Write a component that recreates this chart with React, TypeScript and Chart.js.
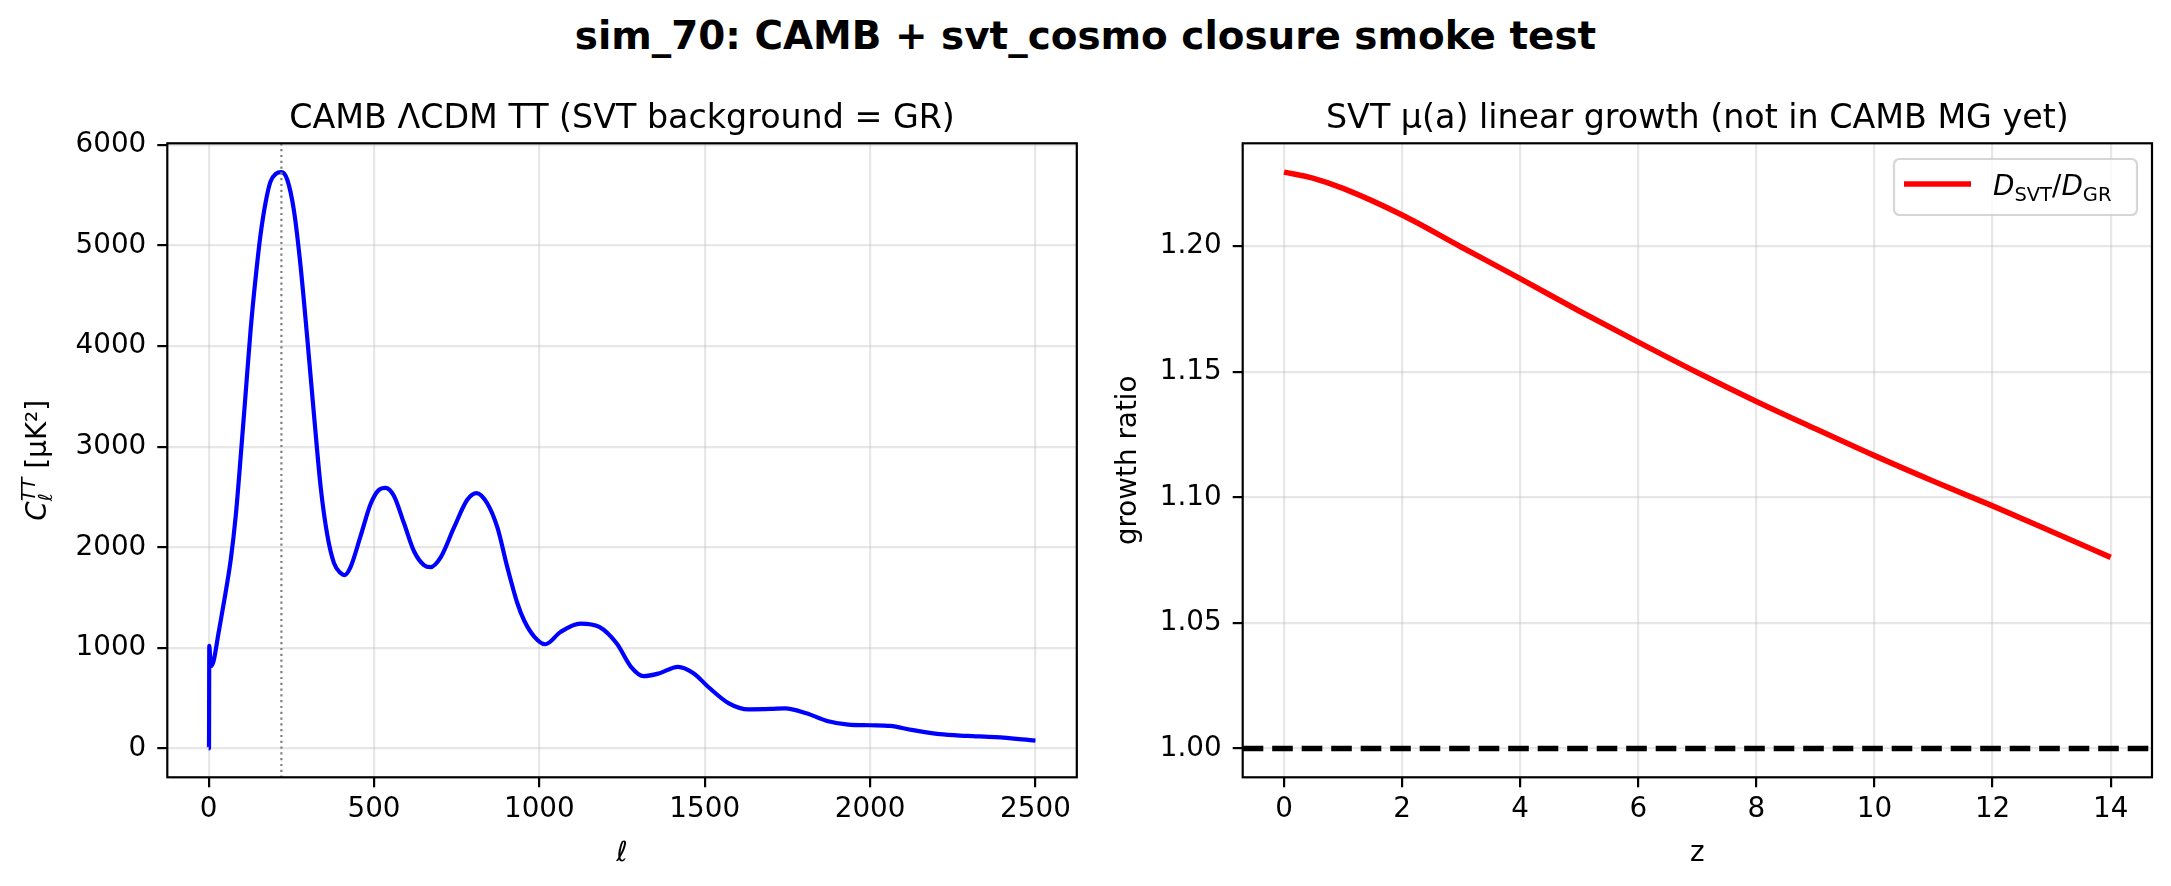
import React, { useEffect, useRef } from 'react';
import { Chart, registerables } from 'chart.js';

Chart.register(...registerables);

// ---- left panel: CAMB LCDM TT spectrum ----
const ellValues = [
  0, 1, 2, 5, 8, 15, 30, 46, 67, 82, 97, 112, 127, 142, 157, 172, 187, 203, 220, 238, 258, 278, 298,
  319, 339, 359, 379, 399, 411, 429, 460, 490, 515, 535, 560, 591, 621, 651, 671, 702, 742, 782, 810,
  843, 873, 903, 933, 954, 985, 1018, 1064, 1124, 1181, 1234, 1277, 1315, 1361, 1419, 1467, 1510, 1573,
  1633, 1700, 1743, 1807, 1870, 1934, 2000, 2061, 2125, 2210, 2295, 2379, 2500,
];
const ttValues = [
  0, 0, 1020, 880, 820, 870, 1150, 1449, 1882, 2315, 2906, 3535, 4165, 4677, 5110, 5425, 5635, 5712,
  5730, 5652, 5346, 4795, 4087, 3299, 2591, 2118, 1843, 1744, 1724, 1803, 2118, 2433, 2571, 2591, 2512,
  2236, 1961, 1823, 1803, 1902, 2197, 2472, 2539, 2433, 2197, 1803, 1449, 1272, 1110, 1036, 1158, 1241,
  1208, 1043, 812, 719, 746, 812, 746, 614, 449, 389, 393, 399, 350, 274, 238, 231, 224, 185, 142, 125,
  112, 79,
];
const ellTicks = [0, 500, 1000, 1500, 2000, 2500];
const ttTicks = [0, 1000, 2000, 3000, 4000, 5000, 6000];
const peakEll = 220;

// ---- right panel: SVT growth ratio ----
const zValues = [0, 0.5, 1, 2, 3, 4, 5, 6, 7, 8, 9, 10, 11, 12, 13, 14];
const growthRatio = [
  1.2295, 1.227, 1.223, 1.2124, 1.1997, 1.1871, 1.1742, 1.1618, 1.1497, 1.1382, 1.1273, 1.1166, 1.1064,
  1.0966, 1.0864, 1.0761,
];
const zTicks = [0, 2, 4, 6, 8, 10, 12, 14];
const ratioTicks = [1.0, 1.05, 1.1, 1.15, 1.2];
const grLevel = 1.0;

const FAMILY = '"DejaVu Sans", sans-serif';
const GRID = 'rgba(176,176,176,0.3)';
const TICK_PX = 27.8;
const SUB_PX = 19.5;
const TITLE_PX = 33.3;

type Run = { t: string; size: number; it?: boolean; dy?: number; rewind?: boolean };

const fontOf = (r: Run) => `${r.it ? 'italic ' : ''}${r.size}px ${FAMILY}`;

// draws a row of text pieces (for sub/superscripts), x is centre or left edge, y is baseline
function drawRuns(ctx: CanvasRenderingContext2D, runs: Run[], x: number, y: number, align: 'center' | 'left') {
  let pen = 0;
  let prevW = 0;
  let total = 0;
  const placed: { r: Run; x: number }[] = [];
  for (const r of runs) {
    ctx.font = fontOf(r);
    const w = ctx.measureText(r.t).width;
    if (r.rewind) pen -= prevW;
    placed.push({ r, x: pen });
    pen += w;
    prevW = w;
    total = Math.max(total, pen);
  }
  const x0 = align === 'center' ? x - total / 2 : x;
  ctx.textAlign = 'left';
  ctx.textBaseline = 'alphabetic';
  ctx.fillStyle = '#000';
  for (const p of placed) {
    ctx.font = fontOf(p.r);
    ctx.fillText(p.r.t, x0 + p.x, y + (p.r.dy || 0));
  }
}

type Decor = {
  title: string;
  xLabel: Run[];
  yLabel: Run[];
  yLabelX: number;
  vline?: number;
  hline?: number;
  legend?: boolean;
};

function makeDecor(d: Decor) {
  return {
    id: 'decor',
    afterDatasetsDraw(chart: any) {
      const { ctx, chartArea: a, scales } = chart;
      ctx.save();
      if (d.vline !== undefined) {
        const x = scales.x.getPixelForValue(d.vline);
        ctx.strokeStyle = '#808080';
        ctx.lineWidth = 2.2;
        ctx.setLineDash([2.2, 3.6]);
        ctx.beginPath();
        ctx.moveTo(x, a.top);
        ctx.lineTo(x, a.bottom);
        ctx.stroke();
      }
      if (d.hline !== undefined) {
        const y = scales.y.getPixelForValue(d.hline);
        ctx.strokeStyle = '#000';
        ctx.lineWidth = 5.6;
        ctx.setLineDash([20.6, 8.9]);
        ctx.beginPath();
        ctx.moveTo(a.left, y);
        ctx.lineTo(a.right, y);
        ctx.stroke();
      }
      ctx.setLineDash([]);
      ctx.strokeStyle = '#000';
      ctx.lineWidth = 2.2;
      ctx.strokeRect(a.left, a.top, a.right - a.left, a.bottom - a.top);
      ctx.restore();
    },
    afterDraw(chart: any) {
      const { ctx, chartArea: a } = chart;
      const cx = (a.left + a.right) / 2;
      const cy = (a.top + a.bottom) / 2;
      ctx.save();
      drawRuns(ctx, [{ t: d.title, size: TITLE_PX }], cx, 127.5, 'center');
      drawRuns(ctx, d.xLabel, cx, 861, 'center');
      ctx.save();
      ctx.translate(d.yLabelX, cy);
      ctx.rotate(-Math.PI / 2);
      drawRuns(ctx, d.yLabel, 0, 0, 'center');
      ctx.restore();

      if (d.legend) {
        const bw = 243;
        const bh = 56;
        const bx = a.right - 15 - bw;
        const by = a.top + 15.7;
        ctx.beginPath();
        ctx.roundRect(bx, by, bw, bh, 5.5);
        ctx.fillStyle = 'rgba(255,255,255,0.8)';
        ctx.fill();
        ctx.strokeStyle = 'rgba(204,204,204,0.8)';
        ctx.lineWidth = 2.2;
        ctx.stroke();
        ctx.strokeStyle = '#ff0000';
        ctx.lineWidth = 5.6;
        ctx.beginPath();
        ctx.moveTo(bx + 10, by + 25);
        ctx.lineTo(bx + 77, by + 25);
        ctx.stroke();
        drawRuns(
          ctx,
          [
            { t: 'D', size: TICK_PX, it: true },
            { t: 'SVT', size: SUB_PX, dy: 5.5 },
            { t: '/', size: TICK_PX },
            { t: 'D', size: TICK_PX, it: true },
            { t: 'GR', size: SUB_PX, dy: 5.5 },
          ],
          bx + 99,
          by + 36,
          'left'
        );
      }
      ctx.restore();
    },
  };
}

function linearAxis(o: {
  min: number;
  max: number;
  ticks: number[];
  fmt: (v: number) => string;
  size: number;
  horizontal: boolean;
}) {
  return {
    type: 'linear' as const,
    min: o.min,
    max: o.max,
    afterBuildTicks: (s: any) => {
      s.ticks = o.ticks.map((v) => ({ value: v }));
    },
    afterFit: (s: any) => {
      if (o.horizontal) s.height = o.size;
      else s.width = o.size;
    },
    grid: { color: GRID, lineWidth: 2.2, tickColor: '#000', tickWidth: 2.2, tickLength: 10, drawTicks: true },
    border: { display: false },
    ticks: {
      color: '#000',
      font: { family: FAMILY, size: TICK_PX },
      padding: o.horizontal ? 6 : 11,
      autoSkip: false,
      maxRotation: 0,
      callback: (v: any) => o.fmt(Number(v)),
    },
  };
}

// matplotlib-style 5% margins
function padded(lo: number, hi: number) {
  const m = (hi - lo) * 0.05;
  return [lo - m, hi + m];
}

const H = 886;
const LEFT_W = 1100;
const RIGHT_X = 1050;
const RIGHT_W = 2171 - RIGHT_X;
const AREA_TOP = 143.3;
const AREA_BOTTOM = 777.3;
const XAXIS_H = 60;

export default function App() {
  const leftRef = useRef<HTMLCanvasElement>(null);
  const rightRef = useRef<HTMLCanvasElement>(null);

  useEffect(() => {
    document.body.style.margin = '0';
    if (!leftRef.current || !rightRef.current) return;

    const [lx0, lx1] = padded(Math.min(...ellValues), Math.max(...ellValues));
    const [ly0, ly1] = padded(Math.min(...ttValues), Math.max(...ttValues));
    const [rx0, rx1] = padded(Math.min(...zValues), Math.max(...zValues));
    const [ry0, ry1] = padded(Math.min(grLevel, ...growthRatio), Math.max(grLevel, ...growthRatio));

    const left = new Chart(leftRef.current, {
      type: 'line',
      data: {
        datasets: [
          {
            data: ellValues.map((x, i) => ({ x, y: ttValues[i] })),
            borderColor: '#0000ff',
            borderWidth: 4.2,
            pointRadius: 0,
            cubicInterpolationMode: 'monotone',
            fill: false,
          },
        ],
      },
      options: {
        responsive: false,
        animation: false,
        events: [],
        layout: {
          autoPadding: false,
          padding: { left: 0, top: AREA_TOP, right: LEFT_W - 1076.8, bottom: H - AREA_BOTTOM - XAXIS_H },
        },
        plugins: { legend: { display: false }, tooltip: { enabled: false } },
        scales: {
          x: linearAxis({ min: lx0, max: lx1, ticks: ellTicks, fmt: (v) => String(v), size: XAXIS_H, horizontal: true }),
          y: linearAxis({ min: ly0, max: ly1, ticks: ttTicks, fmt: (v) => String(v), size: 167.3, horizontal: false }),
        },
      } as any,
      plugins: [
        makeDecor({
          title: 'CAMB \u039bCDM TT (SVT background = GR)',
          xLabel: [{ t: '\u2113', size: TICK_PX, it: true }],
          yLabel: [
            { t: 'C', size: TICK_PX, it: true },
            { t: '\u2113', size: SUB_PX, it: true, dy: 5.5 },
            { t: 'TT', size: SUB_PX, it: true, dy: -11, rewind: true },
            { t: ' [\u03bcK\u00b2]', size: TICK_PX },
          ],
          yLabelX: 46,
          vline: peakEll,
        }),
      ],
    });

    const right = new Chart(rightRef.current, {
      type: 'line',
      data: {
        datasets: [
          {
            data: zValues.map((x, i) => ({ x, y: growthRatio[i] })),
            borderColor: '#ff0000',
            borderWidth: 5.6,
            pointRadius: 0,
            cubicInterpolationMode: 'monotone',
            fill: false,
          },
        ],
      },
      options: {
        responsive: false,
        animation: false,
        events: [],
        layout: {
          autoPadding: false,
          padding: { left: 0, top: AREA_TOP, right: RIGHT_W - (2152 - RIGHT_X), bottom: H - AREA_BOTTOM - XAXIS_H },
        },
        plugins: { legend: { display: false }, tooltip: { enabled: false } },
        scales: {
          x: linearAxis({ min: rx0, max: rx1, ticks: zTicks, fmt: (v) => String(v), size: XAXIS_H, horizontal: true }),
          y: linearAxis({
            min: ry0,
            max: ry1,
            ticks: ratioTicks,
            fmt: (v) => v.toFixed(2),
            size: 1242.7 - RIGHT_X,
            horizontal: false,
          }),
        },
      } as any,
      plugins: [
        makeDecor({
          title: 'SVT \u03bc(a) linear growth (not in CAMB MG yet)',
          xLabel: [{ t: 'z', size: TICK_PX }],
          yLabel: [{ t: 'growth ratio', size: TICK_PX }],
          yLabelX: 1136 - RIGHT_X,
          hline: grLevel,
          legend: true,
        }),
      ],
    });

    return () => {
      left.destroy();
      right.destroy();
    };
  }, []);

  return (
    <div style={{ position: 'absolute', left: 0, top: 0, width: 2171, height: H, background: '#fff', overflow: 'hidden' }}>
      <div
        style={{
          position: 'absolute',
          left: 0,
          top: 17,
          width: 2171,
          textAlign: 'center',
          fontFamily: FAMILY,
          fontWeight: 'bold',
          fontSize: 38.9,
          lineHeight: '38.9px',
          color: '#000',
          whiteSpace: 'nowrap',
        }}
      >
        sim_70: CAMB + svt_cosmo closure smoke test
      </div>
      <canvas ref={leftRef} width={LEFT_W} height={H} style={{ position: 'absolute', left: 0, top: 0 }} />
      <canvas ref={rightRef} width={RIGHT_W} height={H} style={{ position: 'absolute', left: RIGHT_X, top: 0 }} />
    </div>
  );
}
